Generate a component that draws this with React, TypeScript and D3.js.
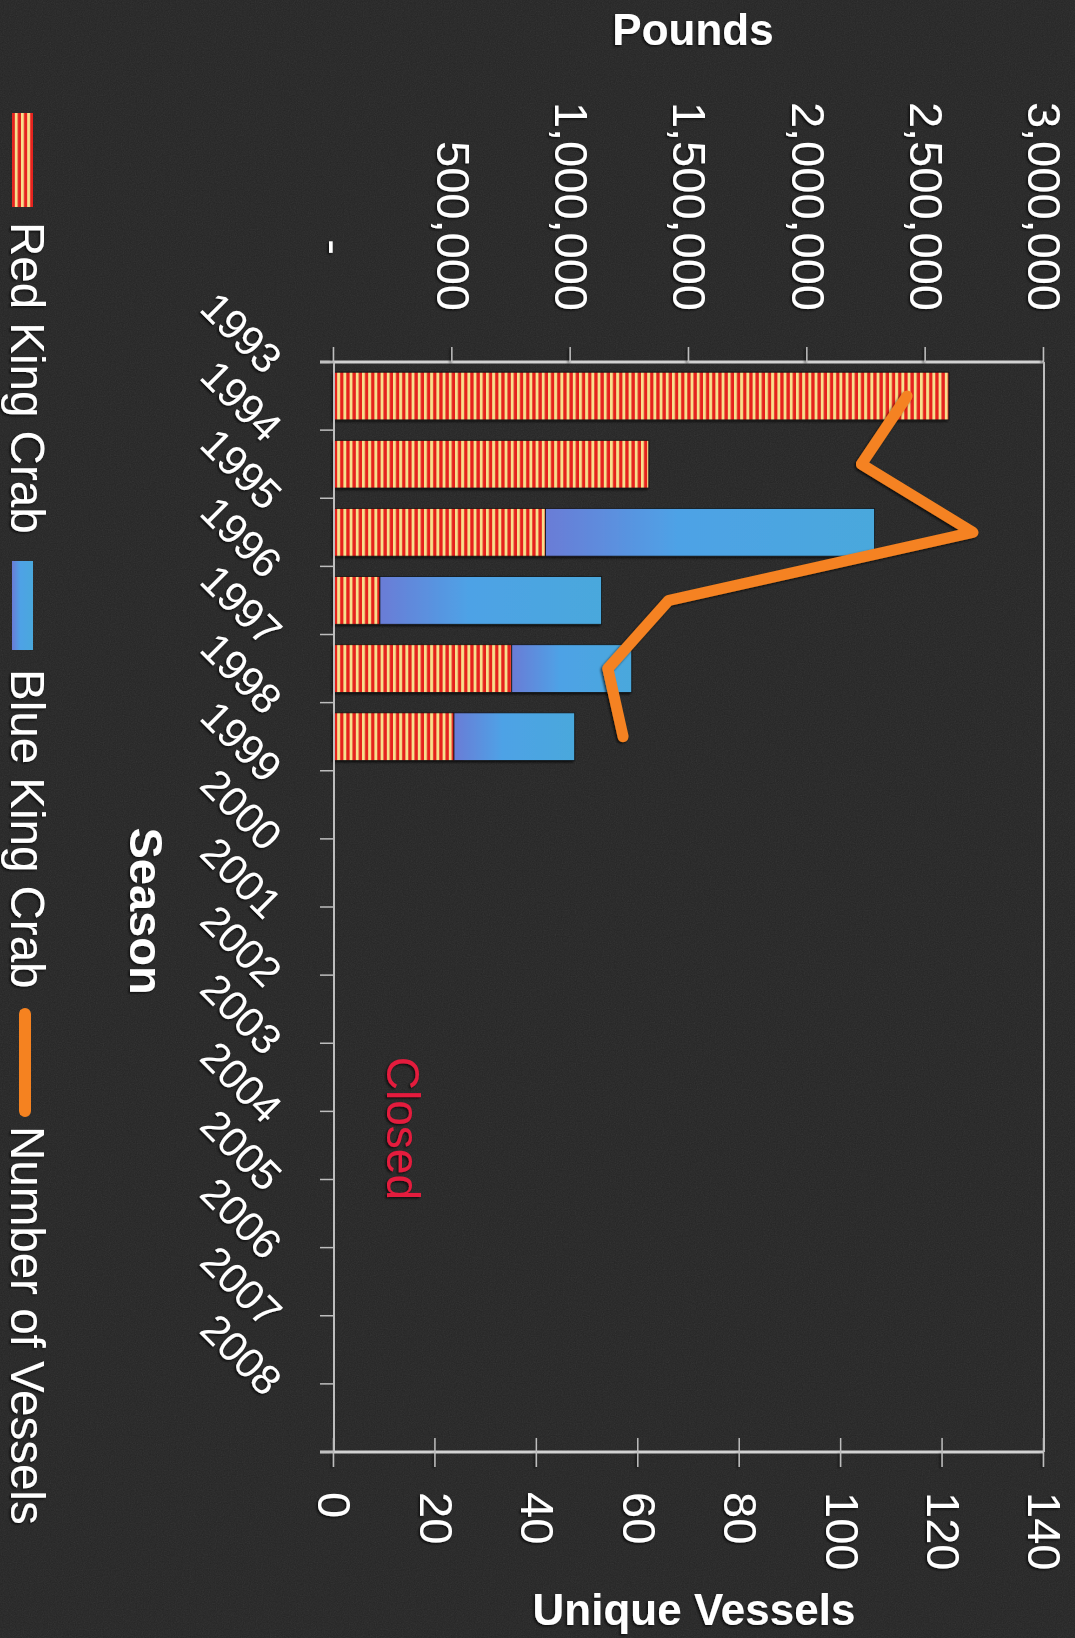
import React, { useEffect, useRef } from 'react';
import * as d3 from 'd3';

const seasons = ['1993', '1994', '1995', '1996', '1997', '1998', '1999', '2000', '2001', '2002', '2003', '2004', '2005', '2006', '2007', '2008'];
const openSeasons = ['1993', '1994', '1995', '1996', '1997', '1998'];
const redKing = [2598000, 1330000, 894000, 194000, 751000, 507000];
const blueKing = [0, 0, 1390000, 936000, 507000, 510000];
const vessels = [113, 104, 126, 66, 54, 57];
const poundTicks = [0, 500000, 1000000, 1500000, 2000000, 2500000, 3000000];
const vesselTicks = [0, 20, 40, 60, 80, 100, 120, 140];
const legendItems = ['Red King Crab', 'Blue King Crab', 'Number of Vessels'];

const W = 1075;
const H = 1638;
const FONT = '"Liberation Sans", Arial, Helvetica, sans-serif';

const App: React.FC = () => {
  const ref = useRef<SVGSVGElement>(null);

  useEffect(() => {
    const root = d3.select(ref.current);
    root.selectAll('*').remove();

    const defs = root.append('defs');
    const stripes = defs.append('pattern')
      .attr('id', 'stripes')
      .attr('patternUnits', 'userSpaceOnUse')
      .attr('width', 10)
      .attr('height', 6.2);
    stripes.append('rect').attr('width', 10).attr('height', 6.2).attr('fill', '#f7df8c');
    stripes.append('rect').attr('width', 10).attr('height', 3.3).attr('fill', '#e5231f');

    const grad = defs.append('linearGradient')
      .attr('id', 'blueGrad')
      .attr('x1', 0).attr('y1', 1).attr('x2', 0).attr('y2', 0);
    grad.append('stop').attr('offset', '0%').attr('stop-color', '#6a7cd6');
    grad.append('stop').attr('offset', '40%').attr('stop-color', '#4ea2e6');
    grad.append('stop').attr('offset', '100%').attr('stop-color', '#4aa8dc');

    const noise = defs.append('filter').attr('id', 'noise');
    noise.append('feTurbulence')
      .attr('type', 'fractalNoise')
      .attr('baseFrequency', 0.85)
      .attr('numOctaves', 2)
      .attr('seed', 3);
    noise.append('feColorMatrix').attr('type', 'saturate').attr('values', 0);
    noise.append('feComponentTransfer')
      .append('feFuncA').attr('type', 'linear').attr('slope', 0.1);

    const shadow = defs.append('filter').attr('id', 'shadow')
      .attr('x', '-10%').attr('y', '-10%').attr('width', '130%').attr('height', '130%');
    shadow.append('feDropShadow')
      .attr('dx', 1.5).attr('dy', 1.5).attr('stdDeviation', 1)
      .attr('flood-color', '#000').attr('flood-opacity', 0.7);

    // background
    root.append('rect').attr('width', W).attr('height', H).attr('fill', '#252525');
    root.append('rect').attr('width', W).attr('height', H).attr('filter', 'url(#noise)');

    // the chart is drawn upright, then turned 90deg clockwise
    const g = root.append('g')
      .attr('transform', `translate(${W},0) rotate(90)`)
      .style('font-family', FONT);

    const x = d3.scaleBand().domain(seasons).range([362, 1452]);
    const yP = d3.scaleLinear().domain([0, 3000000]).range([741, 31]);
    const yV = d3.scaleLinear().domain([0, 140]).range([741, 31]);
    const bw = x.bandwidth() * 0.7;
    const off = (x.bandwidth() - bw) / 2;

    // bars
    const bars = g.append('g').attr('filter', 'url(#shadow)');
    openSeasons.forEach((s, i) => {
      const r = redKing[i];
      const b = blueKing[i];
      bars.append('rect')
        .attr('x', (x(s) || 0) + off)
        .attr('y', yP(r))
        .attr('width', bw)
        .attr('height', yP(0) - yP(r))
        .attr('fill', 'url(#stripes)')
        .attr('stroke', '#151515')
        .attr('stroke-width', 0.8);
      if (b > 0) {
        bars.append('rect')
          .attr('x', (x(s) || 0) + off)
          .attr('y', yP(r + b))
          .attr('width', bw)
          .attr('height', yP(r) - yP(r + b))
          .attr('fill', 'url(#blueGrad)')
          .attr('stroke', '#151515')
          .attr('stroke-width', 0.8);
      }
    });

    // frame and axes lines
    g.append('line').attr('x1', 362).attr('x2', 1452).attr('y1', 31).attr('y2', 31)
      .attr('stroke', '#bdbdbd').attr('stroke-width', 2);
    g.append('line').attr('x1', 362).attr('x2', 1452).attr('y1', 741).attr('y2', 741)
      .attr('stroke', '#bdbdbd').attr('stroke-width', 2);
    g.append('line').attr('x1', 362).attr('x2', 362).attr('y1', 31).attr('y2', 755)
      .attr('stroke', '#d2d2d2').attr('stroke-width', 3);
    g.append('line').attr('x1', 1452).attr('x2', 1452).attr('y1', 31).attr('y2', 755)
      .attr('stroke', '#d2d2d2').attr('stroke-width', 3);

    const labels = g.append('g').attr('filter', 'url(#shadow)');

    // pounds axis
    const left = labels.append('g')
      .attr('transform', 'translate(362,0)')
      .call(d3.axisLeft(yP).tickValues(poundTicks).tickSize(15).tickPadding(36)
        .tickFormat((d: any) => (d === 0 ? '-' : d3.format(',')(d))));
    left.select('.domain').remove();
    left.selectAll('line').attr('stroke', '#bdbdbd').attr('stroke-width', 1.5);
    left.selectAll('text')
      .attr('fill', '#fff')
      .style('font-size', '47px')
      .style('font-family', FONT)
      .attr('dx', (d: any) => (d === 0 ? -56 : 0));

    // vessels axis
    const right = labels.append('g')
      .attr('transform', 'translate(1452,0)')
      .call(d3.axisRight(yV).tickValues(vesselTicks).tickSize(15).tickPadding(25));
    right.select('.domain').remove();
    right.selectAll('line').attr('stroke', '#bdbdbd').attr('stroke-width', 1.5);
    right.selectAll('text')
      .attr('fill', '#fff')
      .style('font-size', '47px')
      .style('font-family', FONT);
    const rightIn = g.append('g')
      .attr('transform', 'translate(1452,0)')
      .call(d3.axisLeft(yV).tickValues(vesselTicks).tickSize(14).tickFormat(() => ''));
    rightIn.select('.domain').remove();
    rightIn.selectAll('line').attr('stroke', '#bdbdbd').attr('stroke-width', 1.5);

    // season axis
    const bounds = seasons.map(s => x(s) || 0).concat([x.range()[1]]);
    g.append('g').selectAll('line').data(bounds).join('line')
      .attr('x1', d => d).attr('x2', d => d)
      .attr('y1', 741).attr('y2', 755)
      .attr('stroke', '#bdbdbd').attr('stroke-width', 1.5);
    labels.append('g').selectAll('text').data(seasons).join('text')
      .attr('transform', d => {
        const cx = (x(d) || 0) + x.bandwidth() / 2 - 20;
        return `translate(${cx},811) rotate(-45)`;
      })
      .attr('text-anchor', 'end')
      .attr('fill', '#fff')
      .style('font-size', '42px')
      .text(d => d);

    // vessels line
    const line = d3.line<number>()
      .x((_, i) => (x(openSeasons[i]) || 0) + x.bandwidth() / 2)
      .y(d => yV(d));
    g.append('path')
      .datum(vessels)
      .attr('d', line)
      .attr('fill', 'none')
      .attr('stroke', '#f58220')
      .attr('stroke-width', 11)
      .attr('stroke-linecap', 'round')
      .attr('stroke-linejoin', 'round')
      .attr('filter', 'url(#shadow)');

    // closed note
    labels.append('text')
      .attr('x', (x('2004') || 0) + x.bandwidth() / 2 - 17)
      .attr('y', 688)
      .attr('text-anchor', 'middle')
      .attr('fill', '#e41b3d')
      .style('font-size', '46px')
      .text('Closed');

    // axis titles
    labels.append('text')
      .attr('transform', 'translate(45,382) rotate(-90)')
      .attr('text-anchor', 'middle')
      .attr('fill', '#fff')
      .style('font-size', '44px')
      .style('font-weight', 'bold')
      .text('Pounds');
    labels.append('text')
      .attr('transform', 'translate(1625,381) rotate(-90)')
      .attr('text-anchor', 'middle')
      .attr('fill', '#fff')
      .style('font-size', '44px')
      .style('font-weight', 'bold')
      .text('Unique Vessels');
    labels.append('text')
      .attr('x', 911)
      .attr('y', 945)
      .attr('text-anchor', 'middle')
      .attr('fill', '#fff')
      .style('font-size', '47px')
      .style('font-weight', 'bold')
      .text('Season');

    // legend
    const leg = g.append('g');
    leg.append('rect').attr('x', 113).attr('y', 1042).attr('width', 94).attr('height', 21)
      .attr('fill', 'url(#stripes)');
    leg.append('rect').attr('x', 561).attr('y', 1042).attr('width', 89).attr('height', 21)
      .attr('fill', 'url(#blueGrad)');
    leg.append('line').attr('x1', 1014).attr('x2', 1111).attr('y1', 1050).attr('y2', 1050)
      .attr('stroke', '#f58220').attr('stroke-width', 12).attr('stroke-linecap', 'round');
    const legX = [222, 669, 1126];
    labels.selectAll('text.leg').data(legendItems).join('text')
      .attr('class', 'leg')
      .attr('x', (_, i) => legX[i])
      .attr('y', 1064)
      .attr('fill', '#fff')
      .style('font-size', '47.5px')
      .text(d => d);
  }, []);

  return (
    <svg ref={ref} width={W} height={H}
      style={{ position: 'absolute', left: 0, top: 0, display: 'block' }} />
  );
};

export default App;
